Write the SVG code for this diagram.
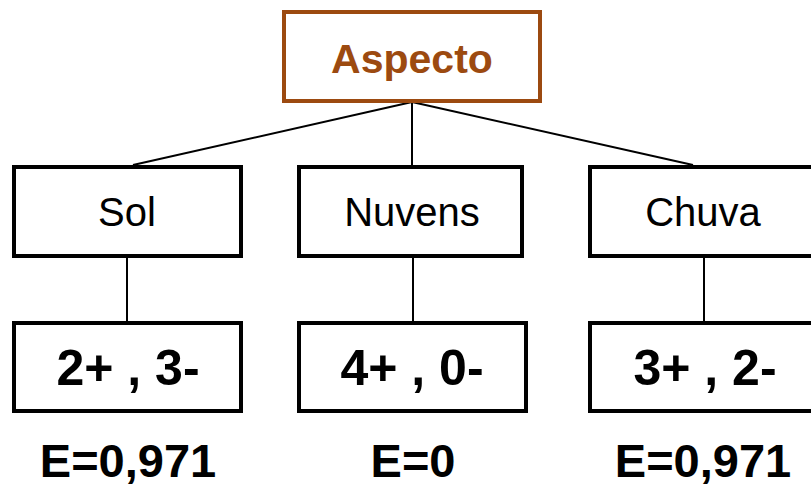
<svg xmlns="http://www.w3.org/2000/svg" width="811" height="487" viewBox="0 0 811 487">
  <style>
    .box { fill: #ffffff; stroke: #000000; stroke-width: 4; }
    .root { fill: #ffffff; stroke: #9c4a10; stroke-width: 4; }
    .edge { stroke: #000000; stroke-width: 2; fill: none; }
    .lbl { font-family: "Liberation Sans", Arial, sans-serif; font-size: 40px; fill: #000000; text-anchor: middle; }
    .rootlbl { font-family: "Liberation Sans", Arial, sans-serif; font-size: 41px; font-weight: bold; fill: #9c4a10; text-anchor: middle; }
    .cnt { font-family: "Liberation Sans", Arial, sans-serif; font-size: 50px; font-weight: bold; fill: #000000; text-anchor: middle; }
    .ent { font-family: "Liberation Sans", Arial, sans-serif; font-size: 47px; font-weight: bold; fill: #000000; text-anchor: middle; }
  </style>
  <rect width="811" height="487" fill="#ffffff"/>

  <g id="connectors">
    <line class="edge" x1="412" y1="102" x2="133" y2="165"/>
    <line class="edge" x1="412" y1="102" x2="412" y2="165"/>
    <line class="edge" x1="412" y1="102" x2="693" y2="165"/>
    <line class="edge" x1="127" y1="257" x2="127" y2="322"/>
    <line class="edge" x1="413" y1="257" x2="413" y2="322"/>
    <line class="edge" x1="704" y1="257" x2="704" y2="322"/>
  </g>

  <g id="aspecto">
    <rect class="root" x="284" y="12" width="256" height="89"/>
    <text class="rootlbl" x="412" y="73">Aspecto</text>
  </g>

  <g id="sol">
    <rect class="box" x="14" y="167" width="227" height="89"/>
    <text class="lbl" x="127" y="226">Sol</text>
  </g>
  <g id="nuvens">
    <rect class="box" x="299" y="167" width="223" height="89"/>
    <text class="lbl" x="412" y="226">Nuvens</text>
  </g>
  <g id="chuva">
    <rect class="box" x="590" y="167" width="240" height="89"/>
    <text class="lbl" x="703" y="226">Chuva</text>
  </g>

  <g id="sol-counts">
    <rect class="box" x="14" y="323" width="227" height="88"/>
    <text class="cnt" x="128" y="385">2+ , 3-</text>
  </g>
  <g id="nuvens-counts">
    <rect class="box" x="299" y="323" width="227" height="88"/>
    <text class="cnt" x="412" y="385">4+ , 0-</text>
  </g>
  <g id="chuva-counts">
    <rect class="box" x="590" y="323" width="240" height="88"/>
    <text class="cnt" x="705" y="385">3+ , 2-</text>
  </g>

  <g id="entropies">
    <text class="ent" x="128" y="477">E=0,971</text>
    <text class="ent" x="413" y="477">E=0</text>
    <text class="ent" x="703" y="477">E=0,971</text>
  </g>
</svg>
